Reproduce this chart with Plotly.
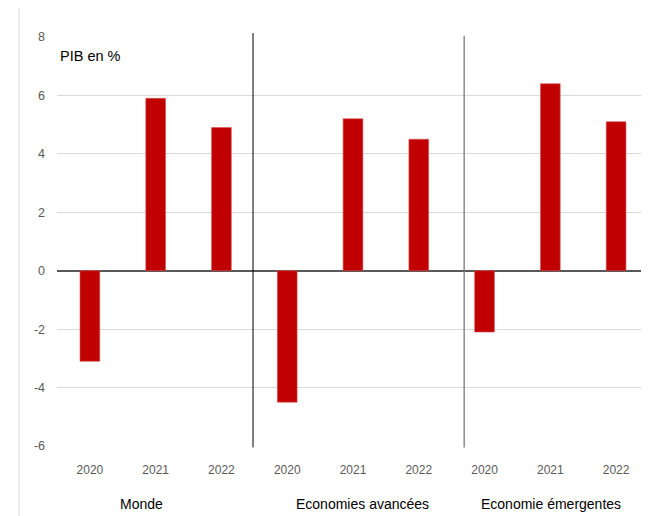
import plotly.graph_objects as go

years = ["2020", "2021", "2022", "2020", "2021", "2022", "2020", "2021", "2022"]
groups = ["Monde", "Economies avancées", "Economie émergentes"]
values = [-3.1, 5.9, 4.9, -4.5, 5.2, 4.5, -2.1, 6.4, 5.1]
y_ticks = [-6, -4, -2, 0, 2, 4, 6, 8]

xpos = list(range(len(values)))

# page body adds an 8px offset; work in window pixels and convert
OFF = 8
FW, FH = 649 - OFF, 516 - OFF
L, T, W, H = 57 - OFF, 37 - OFF, 592, 408.6

fig = go.Figure()
fig.add_trace(go.Bar(
    x=xpos, y=values, width=0.3,
    marker=dict(color="#C00000", line=dict(color="#d9534f", width=0.6)),
    showlegend=False, hoverinfo="y",
))


def px_to_paper_x(px):
    return (px - OFF - L) / W


def px_to_paper_y(py):
    return (T + H - (py - OFF)) / H


shapes = [
    dict(type="line", xref="x", yref="paper", x0=2.48, x1=2.48,
         y0=px_to_paper_y(447), y1=px_to_paper_y(33), line=dict(color="#000000", width=1)),
    dict(type="line", xref="x", yref="paper", x0=5.69, x1=5.69,
         y0=px_to_paper_y(447), y1=px_to_paper_y(36), line=dict(color="#7a7a7a", width=1.3)),
    dict(type="line", xref="paper", yref="paper", x0=px_to_paper_x(19), x1=px_to_paper_x(19),
         y0=px_to_paper_y(516), y1=px_to_paper_y(8), line=dict(color="#d9d9d9", width=1)),
]

FONT = "Liberation Sans Narrow, Liberation Sans, Arial"
group_px = [141, 362, 551]
annotations = [
    dict(text=g, xref="paper", yref="paper", x=px_to_paper_x(gx), y=px_to_paper_y(504),
         showarrow=False, xanchor="center", yanchor="middle",
         font=dict(family=FONT, size=14, color="#000000"))
    for g, gx in zip(groups, group_px)
]
annotations.append(dict(text="PIB en %", xref="paper", yref="paper",
                        x=px_to_paper_x(58), y=px_to_paper_y(56), showarrow=False,
                        xanchor="left", yanchor="middle",
                        font=dict(family=FONT, size=14.5, color="#000000")))

fig.update_layout(
    width=FW, height=FH,
    margin=dict(l=L, r=FW - L - W, t=T, b=FH - T - H, pad=0),
    paper_bgcolor="white", plot_bgcolor="white",
    bargap=0.7,
    shapes=shapes, annotations=annotations,
    font=dict(family=FONT, color="#595959"),
)
fig.update_xaxes(
    range=[-0.5, 8.5], tickvals=xpos, ticktext=years,
    showgrid=False, zeroline=False, showline=False, ticks="",
    tickfont=dict(size=12, color="#595959"), ticklabelstandoff=15,
)
fig.update_yaxes(
    range=[-6, 8], tickvals=y_ticks, ticktext=[str(v) for v in y_ticks],
    showgrid=True, gridcolor="#d9d9d9", gridwidth=1,
    zeroline=True, zerolinecolor="#595959", zerolinewidth=1.5,
    showline=False, ticks="",
    tickfont=dict(size=12.5, color="#595959"), ticklabelstandoff=11,
)

fig.write_html("out.html")
